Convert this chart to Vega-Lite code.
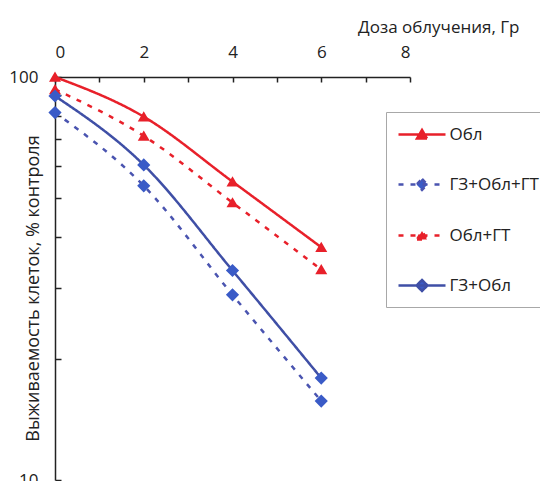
{
  "$schema": "https://vega.github.io/schema/vega-lite/v6.json",
  "autosize": {"type": "none"},
  "padding": {"left": 55, "top": 77, "right": 130, "bottom": 1},
  "width": 355,
  "height": 403,
  "background": "white",
  "config": {
    "view": {"stroke": null},
    "font": "Open Sans",
    "axis": {"labelFont": "Open Sans", "titleFont": "Open Sans", "labelColor": "#222", "titleColor": "#222", "domainColor": "#222", "tickColor": "#222", "grid": false}
  },
  "data": {
    "values": [
      {"series": "Обл", "dose": 0, "surv": 100},
      {"series": "Обл", "dose": 2, "surv": 79.7},
      {"series": "Обл", "dose": 4, "surv": 55},
      {"series": "Обл", "dose": 6, "surv": 37.8},
      {"series": "ГЗ+Обл+ГТ", "dose": 0, "surv": 81.6},
      {"series": "ГЗ+Обл+ГТ", "dose": 2, "surv": 53.7},
      {"series": "ГЗ+Обл+ГТ", "dose": 4, "surv": 28.8},
      {"series": "ГЗ+Обл+ГТ", "dose": 6, "surv": 15.7},
      {"series": "Обл+ГТ", "dose": 0, "surv": 93.2},
      {"series": "Обл+ГТ", "dose": 2, "surv": 71.4},
      {"series": "Обл+ГТ", "dose": 4, "surv": 48.8},
      {"series": "Обл+ГТ", "dose": 6, "surv": 33.3},
      {"series": "ГЗ+Обл", "dose": 0, "surv": 89.7},
      {"series": "ГЗ+Обл", "dose": 2, "surv": 60.5},
      {"series": "ГЗ+Обл", "dose": 4, "surv": 33.1},
      {"series": "ГЗ+Обл", "dose": 6, "surv": 17.9}
    ]
  },
  "encoding": {
    "x": {
      "field": "dose", "type": "quantitative",
      "scale": {"domain": [0, 8], "nice": false},
      "axis": {
        "orient": "top", "values": [0, 1, 2, 3, 4, 5, 6, 7, 8],
        "labelExpr": "datum.value % 2 == 0 ? datum.label : ''",
        "tickSize": -5, "labelPadding": 21, "labelFontSize": 17,
        "domainWidth": 1.5, "tickWidth": 1.5,
        "title": "Доза облучения, Гр", "titleFontSize": 17, "titleFontWeight": "normal",
        "titleAlign": "right", "titleAnchor": null, "titleX": 464, "titleY": -45, "titleBaseline": "alphabetic"
      }
    },
    "y": {
      "field": "surv", "type": "quantitative",
      "scale": {"type": "log", "domain": [10, 100], "nice": false},
      "axis": {
        "values": [10, 20, 30, 40, 50, 60, 70, 80, 90, 100],
        "labelExpr": "datum.value == 100 || datum.value == 10 ? datum.label : ''",
        "tickSize": -6, "labelPadding": 23, "labelFontSize": 17,
        "domainWidth": 1.5, "tickWidth": 1.5,
        "title": "Выживаемость клеток, % контроля", "titleFontSize": 18, "titleFontWeight": "normal",
        "titleAnchor": null, "titleX": -22, "titleY": 211, "titleAlign": "center", "titleBaseline": "middle", "titleAngle": -90
      }
    }
  },
  "layer": [
    {
      "mark": {"type": "line", "interpolate": "monotone", "strokeWidth": 2.5, "clip": false},
      "encoding": {
        "color": {
          "field": "series", "type": "nominal",
          "scale": {"domain": ["Обл", "ГЗ+Обл+ГТ", "Обл+ГТ", "ГЗ+Обл"], "range": ["#e8202a", "#4a54b0", "#e8202a", "#3f4fa6"]},
          "legend": {
            "orient": "none", "legendX": 331, "legendY": 35, "title": null,
            "symbolSize": 400, "symbolStrokeWidth": 2.5, "symbolOffset": 13.5,
            "labelFont": "Open Sans", "labelFontSize": 17, "labelColor": "#222",
            "labelOffset": 16, "rowPadding": 29, "padding": 11,
            "strokeColor": "#a8a8a8", "fillColor": "white"
          }
        },
        "strokeDash": {
          "field": "series", "type": "nominal",
          "scale": {"domain": ["Обл", "ГЗ+Обл+ГТ", "Обл+ГТ", "ГЗ+Обл"], "range": [[1, 0], [5, 7], [5, 7], [1, 0]]},
          "legend": null
        }
      }
    },
    {
      "mark": {"type": "point", "filled": true, "size": 576, "opacity": 1, "strokeWidth": 0, "clip": false},
      "encoding": {
        "fill": {
          "field": "series", "type": "nominal",
          "scale": {"domain": ["Обл", "ГЗ+Обл+ГТ", "Обл+ГТ", "ГЗ+Обл"], "range": ["#e8202a", "#3a5bc7", "#e8202a", "#3a5bc7"]},
          "legend": null
        },
        "shape": {
          "field": "series", "type": "nominal",
          "scale": {"domain": ["Обл", "ГЗ+Обл+ГТ", "Обл+ГТ", "ГЗ+Обл"], "range": [
            "M-2.35,0L2.35,0M-0.5,0.4L0.5,0.4L0,-0.45Z",
            "M-2.35,0L2.35,0M0,-0.55L0.55,0L0,0.55L-0.55,0Z",
            "M-2.35,0L2.35,0M-0.5,0.4L0.5,0.4L0,-0.45Z",
            "M-2.35,0L2.35,0M0,-0.55L0.55,0L0,0.55L-0.55,0Z"
          ]},
          "legend": null
        }
      }
    }
  ]
}
